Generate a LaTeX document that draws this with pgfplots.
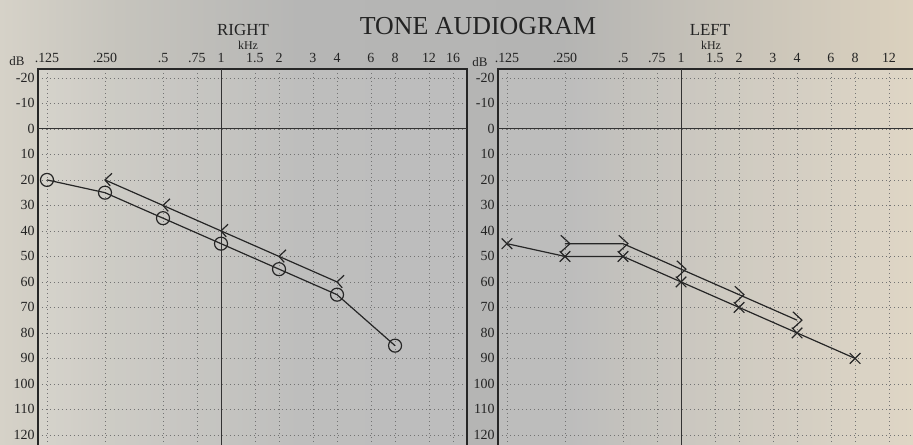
\documentclass[border=0pt]{standalone}
\usepackage{pgfplots}
\pgfplotsset{compat=1.18}
\usepackage{fontspec}
\setmainfont{Liberation Serif}
\definecolor{bgA}{RGB}{214,210,200}
\definecolor{bgB}{RGB}{198,196,189}
\definecolor{bgC}{RGB}{182,182,181}
\definecolor{bgD}{RGB}{180,180,179}
\definecolor{bgE}{RGB}{197,193,184}
\definecolor{bgF}{RGB}{219,209,190}
\definecolor{ink}{RGB}{35,35,35}
\pgfdeclarehorizontalshading{photo}{100bp}{color(0bp)=(bgA); color(25bp)=(bgA); color(31.5bp)=(bgB); color(41.4bp)=(bgC); color(55.7bp)=(bgD); color(63.3bp)=(bgE); color(75bp)=(bgF); color(100bp)=(bgF)}
\pgfdeclareplotmark{bcright}{%
  \pgfpathmoveto{\pgfqpoint{1.0\pgfplotmarksize}{0.95\pgfplotmarksize}}%
  \pgfpathlineto{\pgfqpoint{0pt}{0pt}}%
  \pgfpathlineto{\pgfqpoint{0.75\pgfplotmarksize}{-0.85\pgfplotmarksize}}%
  \pgfusepathqstroke}
\pgfdeclareplotmark{bcleft}{%
  \pgfpathmoveto{\pgfqpoint{-0.6\pgfplotmarksize}{1.2\pgfplotmarksize}}%
  \pgfpathlineto{\pgfqpoint{0.7\pgfplotmarksize}{0pt}}%
  \pgfpathlineto{\pgfqpoint{-0.6\pgfplotmarksize}{-1.2\pgfplotmarksize}}%
  \pgfusepathqstroke}
\pgfplotsset{every axis plot/.append style={line width=1.2bp, color=black!85, mark options={solid, line width=1.2bp}}}
\begin{document}
\begin{tikzpicture}
\fill[shading=photo] (0bp,0bp) rectangle (913bp,445bp);
% RIGHT ear
\begin{axis}[scale only axis, width=429bp, height=391.4bp,
    xmode=log, log basis x=2,
    xmin=0.11228, xmax=18.9,
    ymin=-23.5, ymax=130, y dir=reverse,
    xtick={0.125,0.25,0.5,0.75,1,1.5,2,3,4,6,8,12,16},
    xticklabels={.125,.250,.5,.75,1,1.5,2,3,4,6,8,12,16},
    xticklabel pos=upper,
    ytick={-20,-10,0,10,20,30,40,50,60,70,80,90,100,110,120},
    yticklabels={-20,-10,0,10,20,30,40,50,60,70,80,90,100,110,120},
    major tick length=0pt,
    grid=major,
    major grid style={dash pattern=on 1bp off 3bp, line width=0.7bp, color=black!55},
    axis line style={line width=1.3bp, black!85},
    tick label style={font=\fontsize{14}{14}\selectfont, text=ink},
    xticklabel style={anchor=base, yshift=7bp},
    axis background/.style={fill=white, fill opacity=0.12},
    at={(38bp,376bp)}, anchor=north west]
\addplot[draw=black!80, line width=0.9bp, no marks] coordinates {(1,-23.5) (1,130)};
\addplot[draw=black!80, line width=0.9bp, no marks] coordinates {(0.11228,0) (18.9,0)};
\addplot[mark=o, mark size=6.5bp] coordinates {(0.125,20) (0.25,25) (0.5,35) (1,45) (2,55) (4,65) (8,85)};
\addplot[mark=bcright, mark size=7bp] coordinates {(0.25,20) (0.5,30) (1,40) (2,50) (4,60)};
\end{axis}
% LEFT ear
\begin{axis}[scale only axis, width=429bp, height=391.4bp,
    xmode=log, log basis x=2,
    xmin=0.11228, xmax=18.9,
    ymin=-23.5, ymax=130, y dir=reverse,
    xtick={0.125,0.25,0.5,0.75,1,1.5,2,3,4,6,8,12,16},
    xticklabels={.125,.250,.5,.75,1,1.5,2,3,4,6,8,12,{}},
    xticklabel pos=upper,
    ytick={-20,-10,0,10,20,30,40,50,60,70,80,90,100,110,120},
    yticklabels={-20,-10,0,10,20,30,40,50,60,70,80,90,100,110,120},
    major tick length=0pt,
    grid=major,
    major grid style={dash pattern=on 1bp off 3bp, line width=0.7bp, color=black!55},
    axis line style={line width=1.3bp, black!85},
    tick label style={font=\fontsize{14}{14}\selectfont, text=ink},
    xticklabel style={anchor=base, yshift=7bp},
    axis background/.style={fill=white, fill opacity=0.12},
    at={(498bp,376bp)}, anchor=north west]
\addplot[draw=black!80, line width=0.9bp, no marks] coordinates {(1,-23.5) (1,130)};
\addplot[draw=black!80, line width=0.9bp, no marks] coordinates {(0.11228,0) (18.9,0)};
\addplot[mark=x, mark size=7.5bp] coordinates {(0.125,45) (0.25,50) (0.5,50) (1,60) (2,70) (4,80) (8,90)};
\addplot[mark=bcleft, mark size=7bp] coordinates {(0.25,45) (0.5,45) (1,55) (2,65) (4,75)};
\end{axis}
\node[anchor=base, text=ink, font=\fontsize{26}{26}\selectfont] at (478bp,410bp) {TONE AUDIOGRAM};
\node[anchor=base, text=ink, font=\fontsize{17}{17}\selectfont] at (243bp,409bp) {RIGHT};
\node[anchor=base, text=ink, font=\fontsize{17}{17}\selectfont] at (710bp,409bp) {LEFT};
\node[anchor=base, text=ink, font=\fontsize{12}{12}\selectfont] at (248bp,395bp) {kHz};
\node[anchor=base, text=ink, font=\fontsize{12}{12}\selectfont] at (711bp,395bp) {kHz};
\node[anchor=base, text=ink, font=\fontsize{13}{13}\selectfont] at (17bp,379bp) {dB};
\node[anchor=base, text=ink, font=\fontsize{13}{13}\selectfont] at (480bp,378bp) {dB};
\pgfresetboundingbox
\path[use as bounding box] (0bp,0bp) rectangle (913bp,445bp);
\end{tikzpicture}
\end{document}
